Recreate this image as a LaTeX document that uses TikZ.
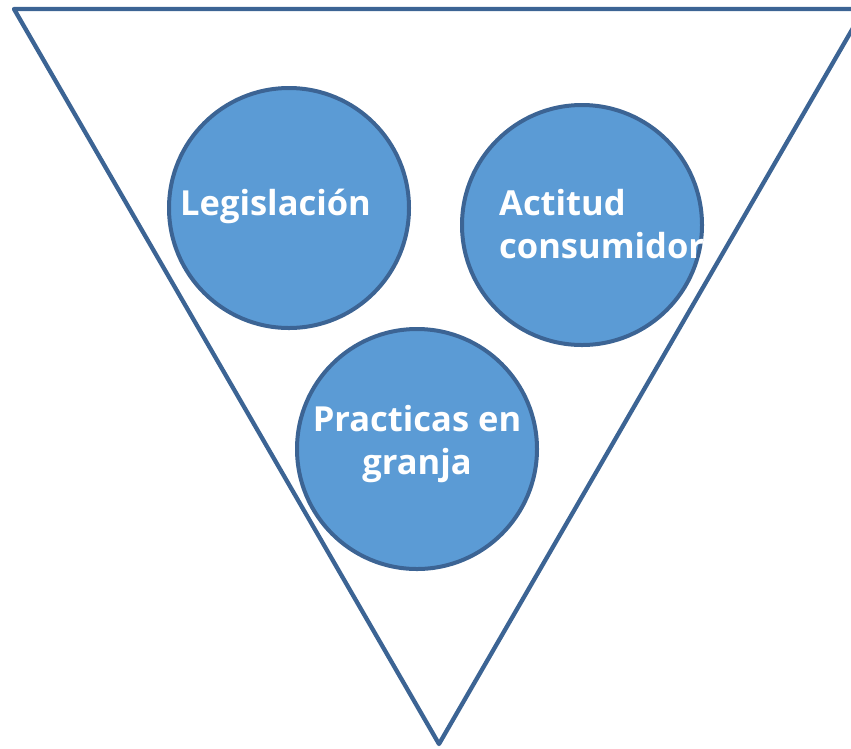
\documentclass[tikz,border=0pt]{standalone}
\usepackage{fontspec}
\setmainfont{Open Sans}
\usepackage{tikz}
\usetikzlibrary{positioning}

\definecolor{ringblue}{HTML}{3C6494}
\definecolor{fillblue}{HTML}{5B9BD5}

\tikzset{
  ball/.style={circle, draw=ringblue, fill=fillblue, line width=4pt, minimum size=240pt, inner sep=0pt},
  lbl/.style={text=white, font=\fontsize{34.5}{43}\selectfont\bfseries, inner sep=0pt}
}

\begin{document}
\begin{tikzpicture}[x=1pt, y=-1pt]
\useasboundingbox (0,0) rectangle (851,748);
\clip (0,0) rectangle (851,748);

% funnel
\coordinate (tl) at (14,9);
\coordinate (tr) at (864,9);
\coordinate (tip) at (439,744);
\draw[ringblue, line width=4.3pt, line join=round] (tl) -- (tr) -- (tip) -- cycle;

% circles
\node[ball] (leg) at (289,208) {};
\node[ball] (act) at (582,225) {};
\node[ball] (pra) at (417,449) {};

% labels (base = last line)
\node[lbl, anchor=base west] (legtxt) at (180,215) {Legislación};
\node[lbl, anchor=base west, align=left] (acttxt) at (499,258) {Actitud\\consumidor};
\node[lbl, anchor=base, align=center] (pratxt) at (417,474) {Practicas en\\granja};
\end{tikzpicture}
\end{document}
